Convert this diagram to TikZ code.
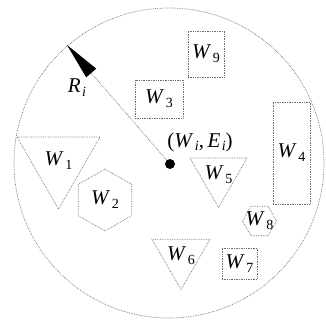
\documentclass[tikz,border=0pt]{standalone}
\usepackage{fontspec}
\setmainfont{Liberation Serif}
\usepackage{tikz}
\usetikzlibrary{shapes.geometric, arrows.meta}
\definecolor{DotGray}{HTML}{6e6e6e}
\newcommand{\wsub}[2]{\textit{#1}\kern1.5pt\raisebox{-0.4ex}{\fontsize{14}{14}\selectfont #2}}

\begin{document}
\begin{tikzpicture}[
    x=1pt, y=-1pt,
    outline/.style={draw=DotGray, densely dotted, line width=0.7pt},
    zone/.style={outline, circle, minimum size=310pt, inner sep=0pt},
    wbox/.style={outline, rectangle, inner sep=0pt, font=\fontsize{21}{23}\selectfont},
    wtri/.style={outline, regular polygon, regular polygon sides=3, shape border rotate=180,
                 inner sep=0pt, label={[font=\fontsize{21}{23}\selectfont]center:#1}},
    whex/.style={outline, regular polygon, regular polygon sides=6,
                 inner sep=0pt, label={[font=\fontsize{21}{23}\selectfont]center:#1}},
    radius/.style={draw=DotGray, densely dotted, line width=0.7pt,
                   -{Triangle[length=37pt, width=13pt, fill=black, color=black]}},
    tag/.style={font=\fontsize{21}{23}\selectfont}
]
\useasboundingbox (0,0) rectangle (326,322);

% coverage zone
\node[zone] (cell) at (169,163) {};
\node[circle, fill=black, minimum size=10pt, inner sep=0pt] (hub) at (170,164) {};
\coordinate (rim) at (67,45);
\draw[radius] (hub) -- (rim);
\node[tag] (rlab) at (77,88) {\wsub{R}{\textit{i}}};
\node[tag] (hlab) at (200,142) {(\wsub{W}{\textit{i}},\,\wsub{E}{\textit{i}})};

% rectangles
\node[wbox, minimum width=36pt, minimum height=46pt] (w9) at (206,54) {\wsub{W}{9}};
\node[wbox, minimum width=48pt, minimum height=38pt] (w3) at (159,99) {\wsub{W}{3}};
\node[wbox, minimum width=37pt, minimum height=102pt] (w4) at (291.5,153) {\wsub{W}{4}};
\node[wbox, minimum width=35pt, minimum height=31pt] (w7) at (239.5,263.5) {\wsub{W}{7}};

% triangles
\node[wtri={\wsub{W}{1}}, minimum size=96pt] (w1) at (58.5,161) {};
\node[wtri={\wsub{W}{5}}, minimum size=66pt] (w5) at (218.5,174.5) {};
\node[wtri={\wsub{W}{6}}, minimum size=67pt] (w6) at (181,256) {};

% hexagons
\node[whex={\wsub{W}{2}}, minimum size=62pt, shape border rotate=30] (w2) at (105,200) {};
\node[whex={\wsub{W}{8}}, minimum size=34pt] (w8) at (259.5,221) {};

\end{tikzpicture}
\end{document}
